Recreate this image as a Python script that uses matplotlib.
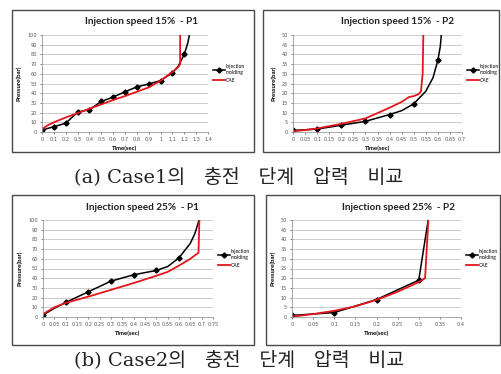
import matplotlib
matplotlib.use("Agg")
import matplotlib.pyplot as plt
from matplotlib.patches import Rectangle
from matplotlib.ticker import FuncFormatter
import numpy as np

W, H = 502, 374

# ---- data ----
# Case1 (injection speed 15%), P1
c1p1_inj_t = [0, 0.1, 0.2, 0.3, 0.4, 0.5, 0.6, 0.7, 0.8, 0.9, 1.0, 1.1, 1.15, 1.2, 1.23, 1.245]
c1p1_inj_p = [2, 5.5, 9, 20.5, 23, 31.5, 36, 41.5, 46.5, 49.5, 53, 61, 68, 80, 92, 101]
c1p1_inj_mark = [0, 1, 2, 3, 4, 5, 6, 7, 8, 9, 10, 11, 13]
c1p1_cae_t = [0, 0.05, 0.1, 0.2, 0.3, 0.4, 0.5, 0.6, 0.7, 0.8, 0.9, 1.0, 1.1, 1.15, 1.165, 1.165]
c1p1_cae_p = [3, 7, 10, 15, 19.5, 24, 28.5, 33, 37, 41.5, 46, 53, 62, 67, 70, 101]

# Case1, P2
c1p2_inj_t = [0, 0.1, 0.2, 0.3, 0.4, 0.45, 0.5, 0.55, 0.58, 0.6, 0.61, 0.615]
c1p2_inj_p = [0.8, 1.5, 3.5, 5.5, 9, 11, 14.5, 21, 28, 37, 44, 51]
c1p2_inj_mark = [0, 1, 2, 3, 4, 6, 9]
c1p2_cae_t = [0, 0.1, 0.2, 0.3, 0.4, 0.45, 0.48, 0.5, 0.52, 0.53, 0.537, 0.54]
c1p2_cae_p = [0.3, 1.8, 4.2, 7, 12.5, 15.5, 18, 18.5, 19.5, 21, 30, 51]

# Case2 (injection speed 25%), P1
c2p1_inj_t = [0, 0.05, 0.1, 0.2, 0.3, 0.4, 0.5, 0.55, 0.6, 0.65, 0.67, 0.69]
c2p1_inj_p = [2, 9, 15, 26, 37, 43.5, 48, 52, 61, 76, 86, 101]
c2p1_inj_mark = [0, 2, 3, 4, 5, 6, 8]
c2p1_cae_t = [0, 0.05, 0.1, 0.2, 0.3, 0.4, 0.5, 0.55, 0.6, 0.65, 0.678, 0.686, 0.69]
c2p1_cae_p = [3, 10, 14.5, 21, 28, 35, 42.5, 46.5, 53, 60, 65, 66, 101]

# Case2, P2
c2p2_inj_t = [0, 0.1, 0.2, 0.3, 0.323]
c2p2_inj_p = [0.8, 2.3, 9, 19, 51]
c2p2_inj_mark = [0, 1, 2, 3]
c2p2_cae_t = [0, 0.05, 0.1, 0.15, 0.2, 0.25, 0.3, 0.315, 0.323]
c2p2_cae_p = [0.2, 1.5, 3.2, 5.5, 8.8, 13, 18, 20, 51]

titles = ["Injection speed 15%  - P1", "Injection speed 15%  - P2",
          "Injection speed 25%  - P1", "Injection speed 25%  - P2"]
captions = ["(a) Case1의   충전   단계   압력   비교", "(b) Case2의   충전   단계   압력   비교"]

RED = "#e3161d"
LAT = "Lato"


def fig_rect(x0, y0, x1, y1):
    # pixel box (top-left origin) -> figure fraction
    return [x0 / W, 1 - y1 / H, (x1 - x0) / W, (y1 - y0) / H]


def draw_panel(fig, box, axbox, title, title_xy, xmax, xstep, ymax, ystep,
               inj_t, inj_p, mark, cae_t, cae_p):
    fig.patches.append(Rectangle((box[0] / W, 1 - box[3] / H),
                                 (box[2] - box[0]) / W, (box[3] - box[1]) / H,
                                 transform=fig.transFigure, fill=False,
                                 ec="#4a4a4a", lw=1.0))
    fig.text(title_xy[0] / W, 1 - title_xy[1] / H, title, ha="center", va="center",
             fontsize=7.2, fontweight="bold", family=LAT, color="#222222")
    ax = fig.add_axes(fig_rect(*axbox))
    ax.plot(inj_t, inj_p, color="black", lw=1.1, marker="D", ms=2.6,
            markevery=mark, label="Injection\nmolding")
    ax.plot(cae_t, cae_p, color=RED, lw=1.3, label="CAE")
    ax.set_xlim(0, xmax)
    ax.set_ylim(0, ymax)
    ax.set_xticks(np.arange(0, xmax + xstep / 2, xstep))
    ax.set_yticks(np.arange(0, ymax + ystep / 2, ystep))
    ax.xaxis.set_major_formatter(FuncFormatter(lambda v, p: ("%.2f" % v).rstrip("0").rstrip(".")))
    ax.tick_params(labelsize=3.6, length=1.5, width=0.5, colors="#555555", pad=2)
    ax.grid(axis="y", color="#c4c4c4", lw=0.6)
    ax.set_axisbelow(True)
    for s in ["top", "right"]:
        ax.spines[s].set_visible(False)
    for s in ["left", "bottom"]:
        ax.spines[s].set_color("#9a9a9a")
        ax.spines[s].set_linewidth(0.6)
    ax.set_xlabel("Time(sec)", fontsize=4.3, fontweight="bold", family=LAT, labelpad=3)
    ax.set_ylabel("Pressure(bar)", fontsize=4.3, fontweight="bold", family=LAT, labelpad=4)
    leg = ax.legend(loc="center left", bbox_to_anchor=(1.02, 0.6), fontsize=3.6,
                    frameon=False, handlelength=2.3, handletextpad=0.2,
                    labelspacing=0.6, borderaxespad=0)
    for t in leg.get_texts():
        t.set_family(LAT)
    return ax


fig = plt.figure(figsize=(W / 100, H / 100), dpi=100)

draw_panel(fig, (12, 10, 254, 152), (42, 35, 208, 132), titles[0], (142, 21),
           1.4, 0.1, 100, 10, c1p1_inj_t, c1p1_inj_p, c1p1_inj_mark, c1p1_cae_t, c1p1_cae_p)
draw_panel(fig, (263, 10, 499, 152), (293, 35, 462, 132), titles[1], (398, 21),
           0.7, 0.05, 50, 5, c1p2_inj_t, c1p2_inj_p, c1p2_inj_mark, c1p2_cae_t, c1p2_cae_p)
draw_panel(fig, (12, 195, 254, 345), (43, 220, 213, 317), titles[2], (143, 208),
           0.75, 0.05, 100, 10, c2p1_inj_t, c2p1_inj_p, c2p1_inj_mark, c2p1_cae_t, c2p1_cae_p)
draw_panel(fig, (266, 195, 500, 345), (292, 220, 461, 317), titles[3], (398, 208),
           0.4, 0.05, 50, 5, c2p2_inj_t, c2p2_inj_p, c2p2_inj_mark, c2p2_cae_t, c2p2_cae_p)

cap_font = ["DejaVu Serif", "Noto Sans CJK KR"]
fig.text(239 / W, 1 - 177 / H, captions[0], ha="center", va="center", fontsize=14,
         family=cap_font, color="#222222")
fig.text(239 / W, 1 - 360 / H, captions[1], ha="center", va="center", fontsize=14,
         family=cap_font, color="#222222")

fig.savefig("out.png", dpi=100)
